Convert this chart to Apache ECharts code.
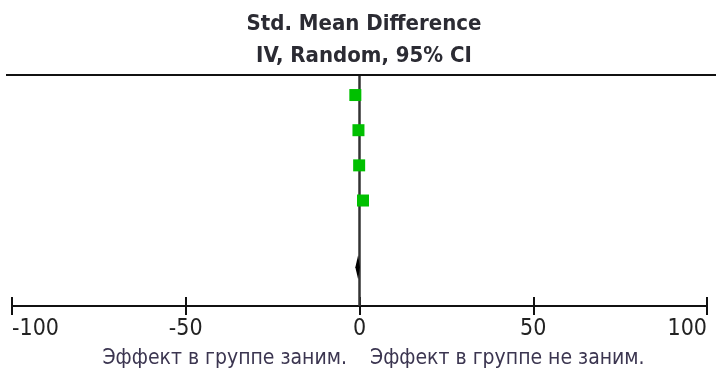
<!DOCTYPE html>
<html>
<head>
<meta charset="utf-8">
<style>
  html, body { margin: 0; padding: 0; background: #fff; }
  #chart { width: 716px; height: 374px; }
</style>
<script src="https://cdn.jsdelivr.net/npm/echarts@6/dist/echarts.min.js"></script>
</head>
<body>
<div id="chart"></div>
<script>
// Forest plot: standardized mean difference per study and pooled estimate
const studyRows = [1, 2, 3, 4];
const studyEstimates = [-1.2, -0.3, -0.1, 1.0];
const pooledRow = 5.9;
const pooledEstimate = -0.4;
const pooledLower = -1.2;
const pooledUpper = 0.1;
const xTicks = [-100, -50, 0, 50, 100];
const titleLines = ['Std. Mean Difference', 'IV, Random, 95% CI'];
const favoursLeft = 'Эффект в группе заним.';
const favoursRight = 'Эффект в группе не заним.';

const narrow = '"DejaVu Sans Condensed", "Arial Narrow", sans-serif';
const chart = echarts.init(document.getElementById('chart'));

const gridBox = { left: 12, right: 9, top: 75, bottom: 68, outerBoundsMode: 'none', containLabel: false };
const xBase = { min: xTicks[0], max: xTicks[xTicks.length - 1], interval: 50, splitLine: { show: false } };

chart.setOption({
  animation: false,
  title: {
    text: titleLines.join('\n'),
    left: 359,
    top: 3,
    textAlign: 'center',
    textStyle: { fontFamily: narrow, fontWeight: 'bold', fontSize: 22, lineHeight: 32, color: '#2b2b33' }
  },
  grid: [Object.assign({}, gridBox), Object.assign({}, gridBox)],
  xAxis: [
    Object.assign({}, xBase, {
      type: 'value', gridIndex: 0, position: 'bottom',
      axisLine: { show: true, lineStyle: { color: '#111', width: 2 } },
      axisTick: { show: true, inside: false, length: 9, lineStyle: { color: '#111', width: 2 } },
      axisLabel: { show: true, margin: 12, fontFamily: narrow, fontSize: 23, color: '#222',
                   alignMinLabel: 'left', alignMaxLabel: 'right',
                   formatter: v => String(v) }
    }),
    Object.assign({}, xBase, {
      type: 'value', gridIndex: 1, position: 'bottom',
      axisLine: { show: false },
      axisTick: { show: true, inside: true, length: 9, lineStyle: { color: '#111', width: 2 } },
      axisLabel: { show: false }
    })
  ],
  yAxis: [
    { type: 'value', gridIndex: 0, inverse: true, min: 0.43, max: 7, show: false },
    { type: 'value', gridIndex: 1, inverse: true, min: 0.43, max: 7, show: false }
  ],
  graphic: [
    { type: 'line', shape: { x1: 6, y1: 75, x2: 716, y2: 75 }, style: { stroke: '#111', lineWidth: 2 }, z: 10 },
    { type: 'text', x: 347, y: 348, style: { text: favoursLeft, align: 'right', fontFamily: narrow, fontSize: 21, fill: '#3b3550' } },
    { type: 'text', x: 370, y: 348, style: { text: favoursRight, align: 'left', fontFamily: narrow, fontSize: 21, fill: '#3b3550' } }
  ],
  series: [
    {
      // line of no effect
      type: 'line',
      xAxisIndex: 0, yAxisIndex: 0,
      data: [],
      z: 1,
      markLine: {
        silent: true,
        symbol: 'none',
        z: 1,
        label: { show: false },
        lineStyle: { color: '#333', width: 2.5, type: 'solid' },
        data: [{ xAxis: 0 }]
      }
    },
    {
      type: 'custom',
      xAxisIndex: 0, yAxisIndex: 0,
      renderItem: function (params, api) {
        const l = api.coord([api.value(0), api.value(3)]);
        const c = api.coord([api.value(1), api.value(3)]);
        const r = api.coord([api.value(2), api.value(3)]);
        const h = 12;
        return {
          type: 'polygon',
          shape: { points: [[l[0], l[1]], [c[0], c[1] - h], [r[0], r[1]], [c[0], c[1] + h]] },
          style: { fill: '#000' }
        };
      },
      data: [[pooledLower, pooledEstimate, pooledUpper, pooledRow]],
      z: 3
    },
    {
      type: 'scatter',
      xAxisIndex: 0, yAxisIndex: 0,
      symbol: 'rect',
      symbolSize: 12,
      itemStyle: { color: '#00c000', opacity: 1 },
      data: studyEstimates.map((v, i) => [v, studyRows[i]]),
      z: 6
    }
  ]
});
</script>
</body>
</html>
